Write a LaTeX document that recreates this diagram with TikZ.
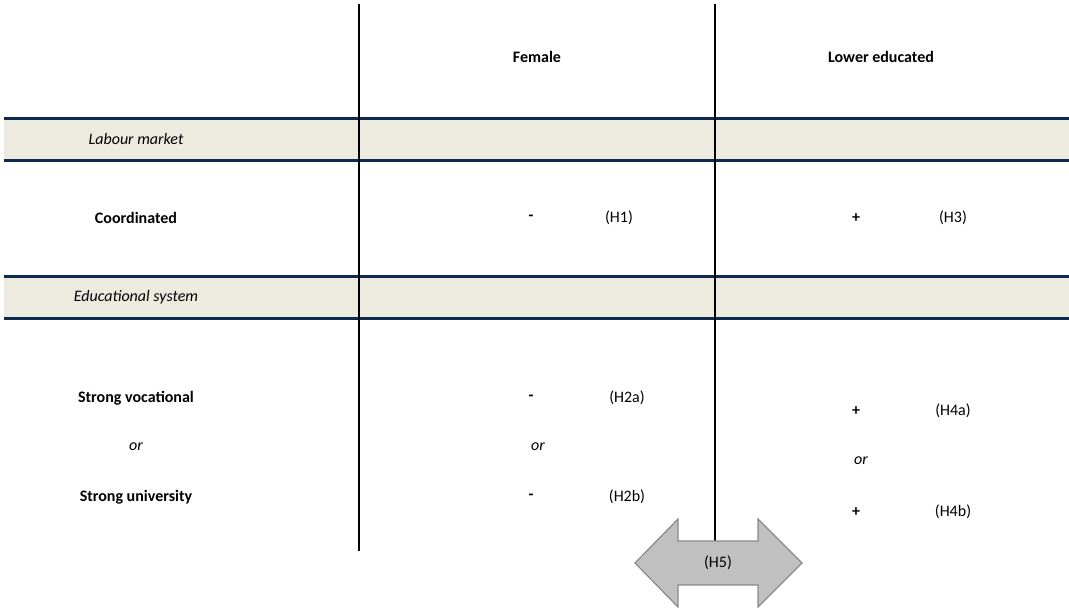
\documentclass[tikz,border=0pt]{standalone}
\usepackage{fontspec}
\setmainfont{Carlito}
\usetikzlibrary{positioning}
\definecolor{bandfill}{HTML}{EDEADF}
\definecolor{bandline}{HTML}{0B2A4E}
\definecolor{arrowfill}{HTML}{C0C0C0}
\definecolor{arrowline}{HTML}{8A8A8A}
\tikzset{
  colhead/.style={font=\fontsize{12}{14}\selectfont\bfseries},
  rowhead/.style={font=\fontsize{12}{14}\selectfont\bfseries},
  section/.style={font=\fontsize{12}{14}\selectfont\itshape},
  sign/.style={font=\fontsize{12}{14}\selectfont\bfseries},
  hyp/.style={font=\fontsize{12}{14}\selectfont},
  orword/.style={font=\fontsize{12}{14}\selectfont\itshape},
  band/.style={fill=bandfill},
  bandrule/.style={draw=bandline, line width=2.25pt},
  colrule/.style={draw=black, line width=1.5pt}
}
\begin{document}
\begin{tikzpicture}[x=0.75pt, y=-0.75pt]
    \useasboundingbox (0,0) rectangle (1069,607);

    % Section bands
    \fill[band] (4,118) rectangle (1069,161);
    \fill[band] (4,276) rectangle (1069,319);
    \foreach \y in {118.5,160.5,276.5,318.5} {
        \draw[bandrule] (4,\y) -- (1069,\y);
    }

    % Column rules
    \draw[colrule] (359,4) -- (359,551);
    \draw[colrule] (715,4) -- (715,545);

    % Column heads
    \node[colhead] (female) at (537,57) {Female};
    \node[colhead] (lowedu) at (881,57) {Lower educated};

    % Labour market
    \node[section] (labour) at (136,139) {Labour market};
    \node[rowhead] (coord) at (136,218) {Coordinated};
    \node[sign] (h1sign) at (531,218) {-};
    \node[hyp] (h1) at (619,218) {(H1)};
    \node[sign] (h3sign) at (856,218) {+};
    \node[hyp] (h3) at (953,218) {(H3)};

    % Educational system
    \node[section] (edu) at (136,297) {Educational system};
    \node[rowhead] (voc) at (136,398) {Strong vocational};
    \node[orword] (oredu) at (136,447) {or};
    \node[rowhead] (uni) at (136,497) {Strong university};

    \node[sign] (h2asign) at (531,398) {-};
    \node[hyp] (h2a) at (627,398) {(H2a)};
    \node[orword] (orfem) at (538,447) {or};
    \node[sign] (h2bsign) at (531,497) {-};
    \node[hyp] (h2b) at (627,497) {(H2b)};

    \node[sign] (h4asign) at (856,411) {+};
    \node[hyp] (h4a) at (953,411) {(H4a)};
    \node[orword] (orlow) at (861,461) {or};
    \node[sign] (h4bsign) at (856,512) {+};
    \node[hyp] (h4b) at (953,512) {(H4b)};

    % Double arrow (H5)
    \draw[fill=arrowfill, draw=arrowline, line width=0.9pt]
        (635,563) -- (678,519) -- (678,541) -- (758,541) -- (758,519)
        -- (802,563) -- (758,607) -- (758,585) -- (678,585) -- (678,607) -- cycle;
    \node[hyp] (h5) at (718,563) {(H5)};
\end{tikzpicture}
\end{document}
